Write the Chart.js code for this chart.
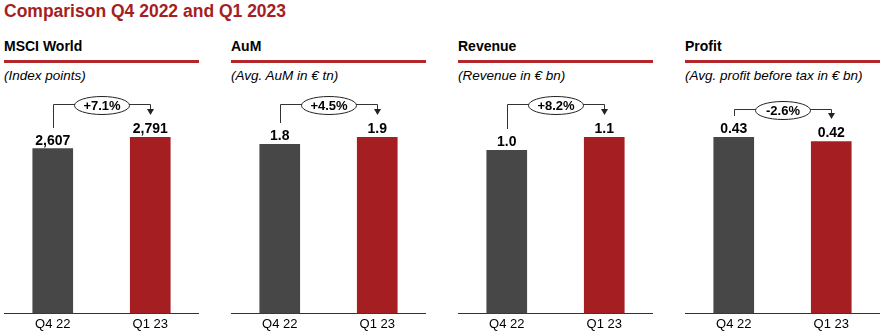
<!DOCTYPE html>
<html>
<head>
<meta charset="utf-8">
<script src="https://cdn.jsdelivr.net/npm/chart.js@4.4.1/dist/chart.umd.min.js"></script>
<style>
  html, body { margin:0; padding:0; background:#fff; }
  body { width:885px; height:335px; position:relative; overflow:hidden; font-family:"Liberation Sans", Arial, sans-serif; }
  .main-title { position:absolute; left:4px; top:3px; font-size:17.5px; font-weight:bold; color:#a51e22; line-height:1; white-space:nowrap; }
  .p-title { position:absolute; top:39px; font-size:14px; font-weight:bold; color:#000; line-height:1; white-space:nowrap; }
  .p-rule { position:absolute; top:60px; height:3px; background:#b3262a; }
  .p-sub { position:absolute; top:69px; font-size:13.5px; font-style:italic; color:#000; line-height:1; white-space:nowrap; }
  canvas { position:absolute; }
</style>
</head>
<body>
<div class="main-title">Comparison Q4 2022 and Q1 2023</div>
<div id="panels"></div>
<script>
// ---- data ----
const categories = ['Q4 22', 'Q1 23'];
const panelTitles = ['MSCI World', 'AuM', 'Revenue', 'Profit'];
const panelSubtitles = ['(Index points)', '(Avg. AuM in € tn)', '(Revenue in € bn)', '(Avg. profit before tax in € bn)'];
const msciValues = [2607, 2791];
const aumValues = [1.82, 1.90];
const revenueValues = [1.01, 1.093];
const profitValues = [0.432, 0.421];
const msciLabels = ['2,607', '2,791'];
const aumLabels = ['1.8', '1.9'];
const revenueLabels = ['1.0', '1.1'];
const profitLabels = ['0.43', '0.42'];
const changeLabels = ['+7.1%', '+4.5%', '+8.2%', '-2.6%'];

// ---- layout / style ----
const panelLeft = [4, 231, 458, 685];
const panelWidth = 195;
const arrowGap = [33, 33, 33, 28];
const barColors = ['#474747', '#a51e22'];
const FONT = '"Liberation Sans", Arial, sans-serif';

const seriesValues = [msciValues, aumValues, revenueValues, profitValues];
const seriesLabels = [msciLabels, aumLabels, revenueLabels, profitLabels];

const annot = {
  id: 'annot',
  afterDatasetsDraw(chart, args, opts) {
    const ctx = chart.ctx;
    const meta = chart.getDatasetMeta(0);
    const b0 = meta.data[0], b1 = meta.data[1];
    ctx.save();
    ctx.font = 'bold 14px ' + FONT;
    ctx.fillStyle = '#000';
    ctx.textAlign = 'center';
    ctx.textBaseline = 'alphabetic';
    opts.labels.forEach((t, i) => {
      const b = meta.data[i];
      ctx.fillText(t, b.x, b.y - 4);
    });
    const lineY = Math.round(Math.min(b0.y, b1.y) - opts.gap) + 0.5;
    const x0 = Math.round(b0.x) + 0.5, x1 = Math.round(b1.x) + 0.5;
    const y0 = Math.round(b0.y - 21);
    const y1 = Math.round(b1.y - 22);
    ctx.strokeStyle = '#333';
    ctx.lineWidth = 1;
    ctx.beginPath();
    ctx.moveTo(x0, y0);
    ctx.lineTo(x0, lineY);
    ctx.lineTo(x1, lineY);
    ctx.lineTo(x1, y1 - 5);
    ctx.stroke();
    ctx.fillStyle = '#222';
    ctx.beginPath();
    ctx.moveTo(x1 - 3.5, y1 - 6);
    ctx.lineTo(x1 + 3.5, y1 - 6);
    ctx.lineTo(x1, y1);
    ctx.closePath();
    ctx.fill();
    const cx = (x0 + x1) / 2, cy = lineY + 1;
    ctx.beginPath();
    ctx.ellipse(cx, cy, 27.5, 9, 0, 0, Math.PI * 2);
    ctx.fillStyle = '#fff';
    ctx.fill();
    ctx.strokeStyle = '#222';
    ctx.stroke();
    ctx.fillStyle = '#000';
    ctx.font = 'bold 13px ' + FONT;
    ctx.textBaseline = 'middle';
    ctx.fillText(opts.change, cx, cy + 0.5);
    ctx.restore();
  }
};

const host = document.getElementById('panels');
panelTitles.forEach((title, i) => {
  const left = panelLeft[i];
  const t = document.createElement('div');
  t.className = 'p-title'; t.style.left = left + 'px'; t.textContent = title;
  host.appendChild(t);
  const r = document.createElement('div');
  r.className = 'p-rule'; r.style.left = left + 'px'; r.style.width = panelWidth + 'px';
  host.appendChild(r);
  const s = document.createElement('div');
  s.className = 'p-sub'; s.style.left = left + 'px'; s.textContent = panelSubtitles[i];
  host.appendChild(s);
  const c = document.createElement('canvas');
  c.width = panelWidth; c.height = 247;
  c.style.left = left + 'px'; c.style.top = '88px';
  c.style.width = panelWidth + 'px'; c.style.height = '247px';
  document.body.appendChild(c);

  const vals = seriesValues[i];
  new Chart(c, {
    type: 'bar',
    data: {
      labels: categories,
      datasets: [{ data: vals, backgroundColor: barColors, borderWidth: 0, barThickness: 40 }]
    },
    options: {
      responsive: false,
      animation: false,
      devicePixelRatio: 1,
      layout: { padding: { top: 49, bottom: 0, left: 0, right: 0 } },
      plugins: {
        legend: { display: false },
        tooltip: { enabled: false },
        annot: { labels: seriesLabels[i], change: changeLabels[i], gap: arrowGap[i] }
      },
      scales: {
        x: {
          grid: { display: false, drawTicks: false },
          border: { display: true, color: '#333', width: 1 },
          ticks: { color: '#000', font: { family: FONT, size: 13 }, padding: 3 }
        },
        y: { display: false, min: 0, max: Math.max(...vals) }
      }
    },
    plugins: [annot]
  });
});
</script>
</body>
</html>
